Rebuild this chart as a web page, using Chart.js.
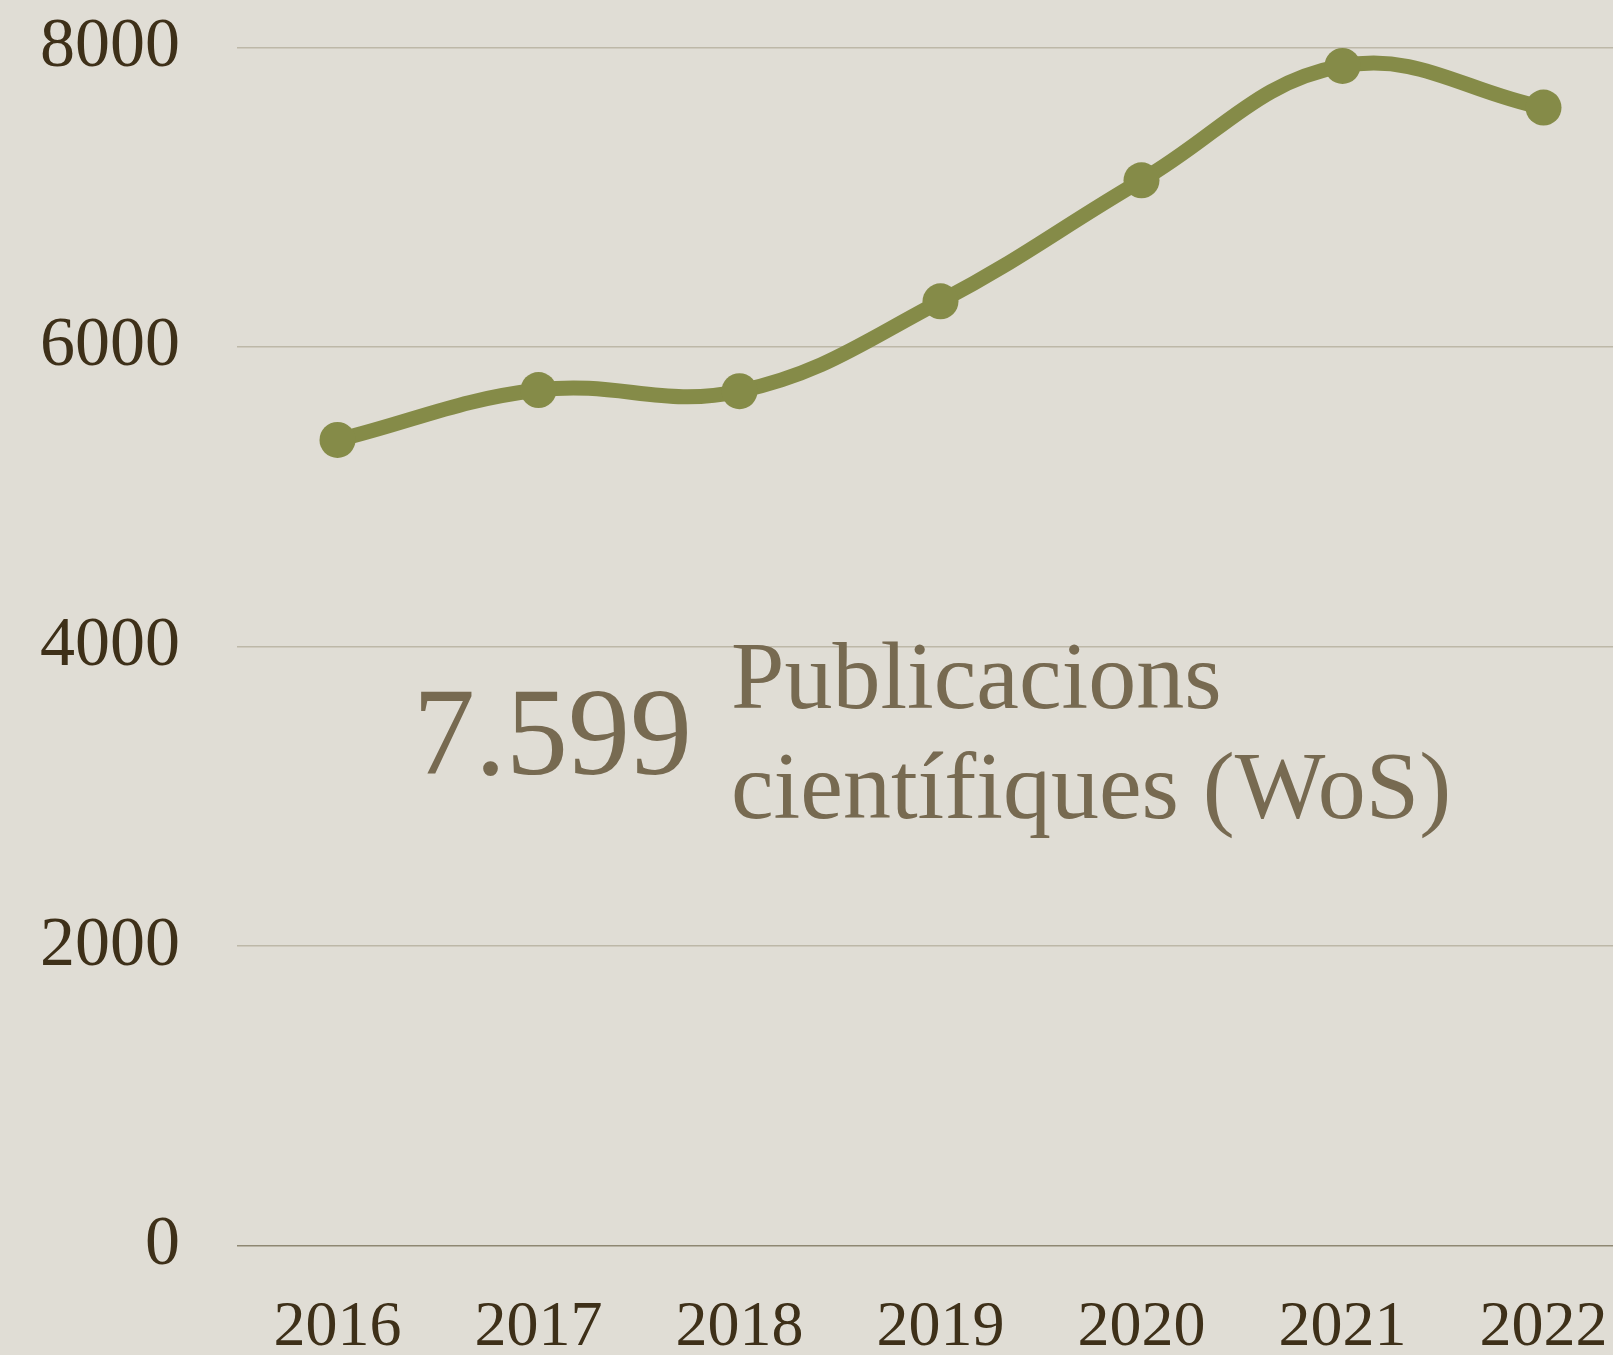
<!DOCTYPE html>
<html lang="ca">
<head>
  <meta charset="UTF-8" />
  <title>Publicacions científiques (WoS)</title>
  <script src="https://cdn.jsdelivr.net/npm/chart.js"></script>
  <style>
    html, body {
      margin: 0;
      padding: 0;
      width: 1613px;
      height: 1355px;
      overflow: hidden;
      background: #e0ddd5;
    }

    .wrap {
      position: relative;
      width: 1644px;
      height: 1355px;
    }

    .big-number {
      position: absolute;
      left: 413px;
      top: 671px;
      font-family: "Liberation Serif", serif;
      font-size: 124px;
      line-height: 124px;
      color: #776a51;
      white-space: nowrap;
    }

    .caption {
      position: absolute;
      left: 731px;
      top: 621px;
      font-family: "Liberation Serif", serif;
      font-size: 96px;
      line-height: 110px;
      color: #776a51;
      white-space: nowrap;
    }
  </style>
</head>
<body>

<div class="wrap">
  <canvas id="chart" width="1644" height="1355"></canvas>
  <div class="big-number">7.599</div>
  <div class="caption">Publicacions<br>científiques (WoS)</div>
</div>

<script>
  const years = ['2016', '2017', '2018', '2019', '2020', '2021', '2022'];
  const publications = [5380, 5713, 5705, 6305, 7113, 7877, 7599];
  const yTicks = [0, 2000, 4000, 6000, 8000];

  const olive = '#858b48';
  const tickColor = '#3e3019';

  new Chart(document.getElementById('chart'), {
    type: 'line',
    data: {
      labels: years,
      datasets: [{
        data: publications,
        borderColor: olive,
        backgroundColor: olive,
        borderWidth: 15,
        tension: 0.4,
        pointRadius: 18,
        pointHoverRadius: 18,
        pointBorderWidth: 0,
        pointBackgroundColor: olive,
        clip: false
      }]
    },
    options: {
      responsive: false,
      animation: false,
      layout: {
        autoPadding: false,
        padding: { top: 47.5, right: 0, bottom: 0, left: 0 }
      },
      plugins: {
        legend: { display: false },
        tooltip: { enabled: false }
      },
      scales: {
        x: {
          offset: true,
          grid: { display: false },
          border: { display: false },
          ticks: {
            color: tickColor,
            padding: 36,
            maxRotation: 0,
            autoSkip: false,
            font: { family: 'Liberation Serif', size: 64 }
          },
          afterFit: s => {
            s.height = 109.3;
            s.paddingLeft = 0;
            s.paddingRight = 0;
          }
        },
        y: {
          min: yTicks[0],
          max: yTicks[yTicks.length - 1],
          afterBuildTicks: s => { s.ticks = yTicks.map(v => ({ value: v })); },
          grid: {
            drawTicks: false,
            lineWidth: 1.5,
            color: c => c.tick && c.tick.value === 0 ? '#8e8772' : '#bdb8a8'
          },
          border: { display: false },
          ticks: {
            color: tickColor,
            padding: 57,
            font: { family: 'Liberation Serif', size: 70 },
            callback: v => String(v)
          },
          afterFit: s => {
            s.width = 237;
            s.paddingTop = 0;
            s.paddingBottom = 0;
          }
        }
      }
    }
  });
</script>

</body>
</html>
